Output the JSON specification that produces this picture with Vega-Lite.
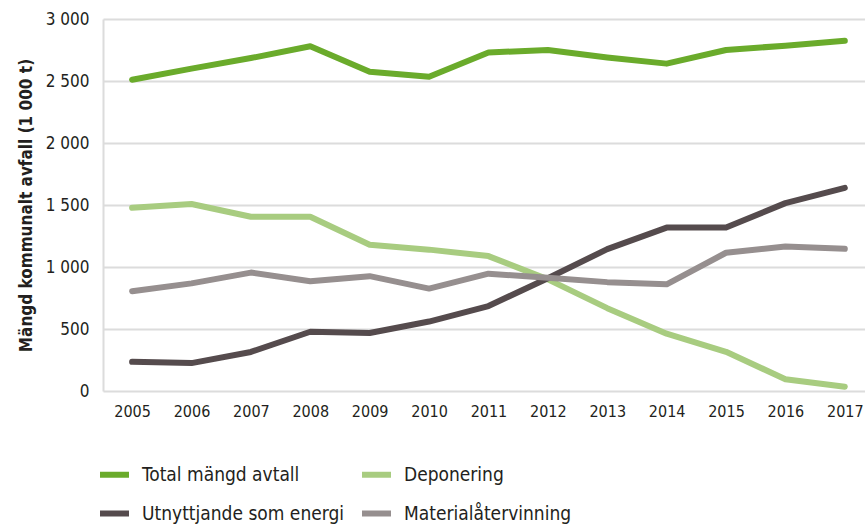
{
  "$schema": "https://vega.github.io/schema/vega-lite/v6.json",
  "width": 762,
  "height": 372,
  "autosize": {"type": "none"},
  "padding": {"left": 103, "top": 19, "right": 0, "bottom": 137},
  "background": "white",
  "config": {
    "view": {"stroke": null},
    "font": "DejaVu Sans Condensed, Liberation Sans, sans-serif"
  },
  "data": {
    "values": [
      {"year": 2005, "series": "Total mängd avtall", "value": 2510},
      {"year": 2006, "series": "Total mängd avtall", "value": 2600},
      {"year": 2007, "series": "Total mängd avtall", "value": 2685},
      {"year": 2008, "series": "Total mängd avtall", "value": 2780},
      {"year": 2009, "series": "Total mängd avtall", "value": 2575},
      {"year": 2010, "series": "Total mängd avtall", "value": 2535},
      {"year": 2011, "series": "Total mängd avtall", "value": 2730},
      {"year": 2012, "series": "Total mängd avtall", "value": 2750},
      {"year": 2013, "series": "Total mängd avtall", "value": 2690},
      {"year": 2014, "series": "Total mängd avtall", "value": 2640},
      {"year": 2015, "series": "Total mängd avtall", "value": 2750},
      {"year": 2016, "series": "Total mängd avtall", "value": 2785},
      {"year": 2017, "series": "Total mängd avtall", "value": 2825},
      {"year": 2005, "series": "Deponering", "value": 1478},
      {"year": 2006, "series": "Deponering", "value": 1508},
      {"year": 2007, "series": "Deponering", "value": 1405},
      {"year": 2008, "series": "Deponering", "value": 1405},
      {"year": 2009, "series": "Deponering", "value": 1180},
      {"year": 2010, "series": "Deponering", "value": 1140},
      {"year": 2011, "series": "Deponering", "value": 1088},
      {"year": 2012, "series": "Deponering", "value": 900},
      {"year": 2013, "series": "Deponering", "value": 668},
      {"year": 2014, "series": "Deponering", "value": 462},
      {"year": 2015, "series": "Deponering", "value": 316},
      {"year": 2016, "series": "Deponering", "value": 95},
      {"year": 2017, "series": "Deponering", "value": 35},
      {"year": 2005, "series": "Utnyttjande som energi", "value": 235},
      {"year": 2006, "series": "Utnyttjande som energi", "value": 225},
      {"year": 2007, "series": "Utnyttjande som energi", "value": 315},
      {"year": 2008, "series": "Utnyttjande som energi", "value": 478},
      {"year": 2009, "series": "Utnyttjande som energi", "value": 468},
      {"year": 2010, "series": "Utnyttjande som energi", "value": 560},
      {"year": 2011, "series": "Utnyttjande som energi", "value": 685},
      {"year": 2012, "series": "Utnyttjande som energi", "value": 910},
      {"year": 2013, "series": "Utnyttjande som energi", "value": 1144},
      {"year": 2014, "series": "Utnyttjande som energi", "value": 1318},
      {"year": 2015, "series": "Utnyttjande som energi", "value": 1318},
      {"year": 2016, "series": "Utnyttjande som energi", "value": 1515},
      {"year": 2017, "series": "Utnyttjande som energi", "value": 1638},
      {"year": 2005, "series": "Materialåtervinning", "value": 805},
      {"year": 2006, "series": "Materialåtervinning", "value": 868},
      {"year": 2007, "series": "Materialåtervinning", "value": 955},
      {"year": 2008, "series": "Materialåtervinning", "value": 885},
      {"year": 2009, "series": "Materialåtervinning", "value": 926},
      {"year": 2010, "series": "Materialåtervinning", "value": 826},
      {"year": 2011, "series": "Materialåtervinning", "value": 946},
      {"year": 2012, "series": "Materialåtervinning", "value": 913},
      {"year": 2013, "series": "Materialåtervinning", "value": 878},
      {"year": 2014, "series": "Materialåtervinning", "value": 860},
      {"year": 2015, "series": "Materialåtervinning", "value": 1115},
      {"year": 2016, "series": "Materialåtervinning", "value": 1165},
      {"year": 2017, "series": "Materialåtervinning", "value": 1147}
    ]
  },
  "mark": {"type": "line", "strokeWidth": 6, "strokeCap": "round", "strokeJoin": "round"},
  "encoding": {
    "x": {
      "field": "year",
      "type": "quantitative",
      "scale": {"domain": [2004.51, 2017.34], "nice": false, "zero": false},
      "axis": {
        "values": [2005, 2006, 2007, 2008, 2009, 2010, 2011, 2012, 2013, 2014, 2015, 2016, 2017],
        "format": "d",
        "title": null,
        "grid": false,
        "domain": false,
        "ticks": false,
        "labelFontSize": 16,
        "labelColor": "#231f20",
        "labelPadding": 12
      }
    },
    "y": {
      "field": "value",
      "type": "quantitative",
      "scale": {"domain": [0, 3000], "nice": false},
      "axis": {
        "values": [0, 500, 1000, 1500, 2000, 2500, 3000],
        "format": ",d",
        "labelExpr": "replace(datum.label, ',', ' ')",
        "title": "Mängd kommunalt avfall (1 000 t)",
        "titleFontSize": 17,
        "titleFontWeight": "bold",
        "titleColor": "#231f20",
        "titlePadding": 10,
        "grid": true,
        "gridColor": "#dcdcdc",
        "gridWidth": 2,
        "domain": true,
        "domainColor": "#dcdcdc",
        "domainWidth": 2,
        "ticks": false,
        "labelFontSize": 17,
        "labelColor": "#231f20",
        "labelPadding": 14
      }
    },
    "color": {
      "field": "series",
      "type": "nominal",
      "sort": ["Total mängd avtall", "Deponering", "Utnyttjande som energi", "Materialåtervinning"],
      "scale": {
        "domain": ["Total mängd avtall", "Deponering", "Utnyttjande som energi", "Materialåtervinning"],
        "range": ["#6aab2b", "#a8cc80", "#554b4d", "#968f8f"]
      },
      "legend": {
        "title": null,
        "orient": "none",
        "legendX": -6,
        "legendY": 438,
        "columns": 2,
        "direction": "horizontal",
        "symbolType": "stroke",
        "symbolSize": 841,
        "symbolStrokeWidth": 6,
        "labelFontSize": 19,
        "labelColor": "#231f20",
        "labelOffset": 10,
        "columnPadding": 5,
        "rowPadding": 9,
        "labelLimit": 400
      }
    }
  }
}
